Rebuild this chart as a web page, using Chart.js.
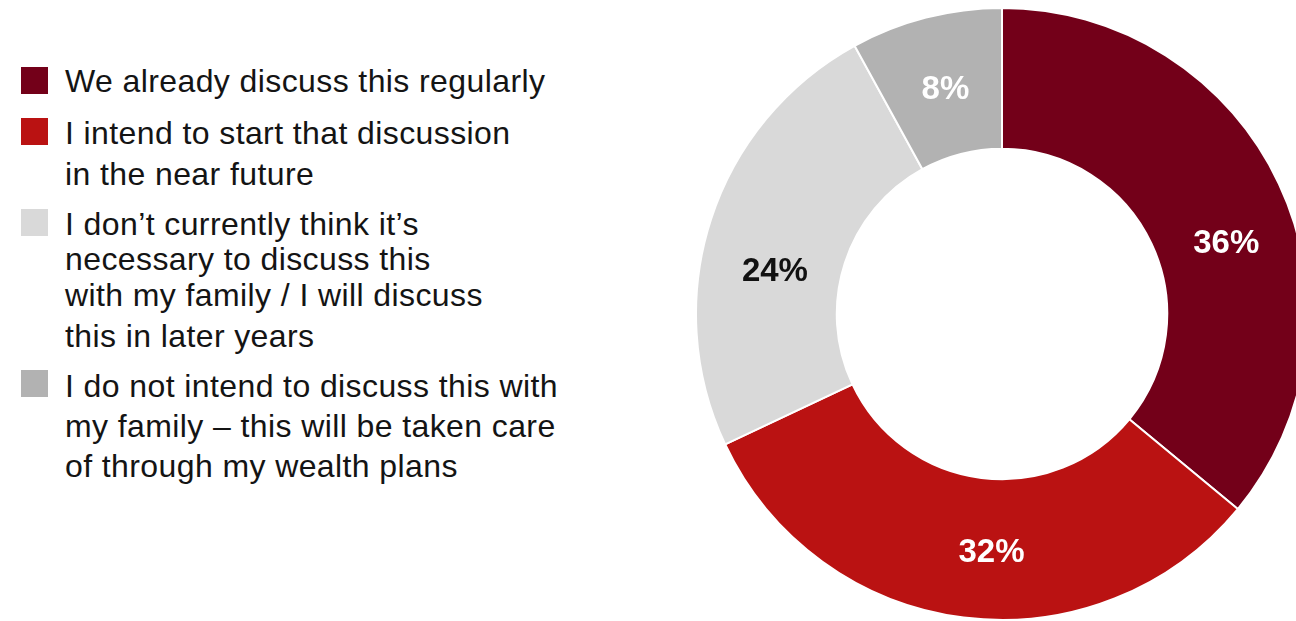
<!DOCTYPE html>
<html>
<head>
<meta charset="utf-8">
<script src="https://cdn.jsdelivr.net/npm/chart.js@4"></script>
<style>
  html, body { margin: 0; padding: 0; background: #ffffff; }
  body { width: 1296px; height: 621px; overflow: hidden; position: relative; }
  #legend { position: absolute; left: 0; top: 0; width: 640px; height: 621px; }
  .swatch { position: absolute; left: 21px; width: 27px; height: 27px; }
  .text {
    position: absolute; left: 65px; white-space: nowrap;
    font-family: "Liberation Sans", Arial, sans-serif; font-size: 32px;
    letter-spacing: 0.4px; color: #141414;
  }
  .text div { display: block; }
  #donutBox { position: absolute; left: 695px; top: 7px; width: 614px; height: 614px; }
</style>
</head>
<body>
<div id="legend"></div>
<div id="donutBox"><canvas id="donut"></canvas></div>
<script>
// Answer categories (one entry per line of the legend text)
const categories = [
  ["We already discuss this regularly"],
  ["I intend to start that discussion", "in the near future"],
  ["I don\u2019t currently think it\u2019s", "necessary to discuss this", "with my family / I will discuss", "this in later years"],
  ["I do not intend to discuss this with", "my family \u2013 this will be taken care", "of through my wealth plans"]
];
// Share of respondents, percent
const shares = [36, 32, 24, 8];
// Labels printed on the ring
const shareLabels = ["36%", "32%", "24%", "8%"];

// Styling
const sliceColors = ["#730019", "#BA1212", "#D9D9D9", "#B2B2B2"];
const labelColors = ["#ffffff", "#ffffff", "#111111", "#ffffff"];
const labelNudge = [[11, 30], [19, 5], [-3, 31], [2, 4]];
const legendLayout = [
  { top: 61, lines: [40], swatchTop: 67 },
  { top: 113, lines: [41, 41], swatchTop: 118 },
  { top: 207, lines: [35, 35.5, 41, 40], swatchTop: 209 },
  { top: 366, lines: [40, 40, 40], swatchTop: 370 }
];

// Legend, built from the category list
const legend = document.getElementById('legend');
categories.forEach((lines, i) => {
  const lay = legendLayout[i];
  const sw = document.createElement('div');
  sw.className = 'swatch';
  sw.style.top = lay.swatchTop + 'px';
  sw.style.background = sliceColors[i];
  legend.appendChild(sw);
  const tx = document.createElement('div');
  tx.className = 'text';
  tx.style.top = lay.top + 'px';
  lines.forEach((ln, j) => {
    const row = document.createElement('div');
    row.style.height = lay.lines[j] + 'px';
    row.style.lineHeight = lay.lines[0] + 'px';
    row.textContent = ln;
    tx.appendChild(row);
  });
  legend.appendChild(tx);
});

// Percent labels drawn inside each slice
const sliceLabels = {
  id: 'sliceLabels',
  afterDatasetsDraw(chart) {
    const ctx = chart.ctx;
    const meta = chart.getDatasetMeta(0);
    ctx.save();
    ctx.font = 'bold 33px "Liberation Sans", Arial, sans-serif';
    ctx.textAlign = 'center';
    ctx.textBaseline = 'middle';
    meta.data.forEach((arc, i) => {
      const p = arc.getCenterPoint();
      ctx.fillStyle = labelColors[i];
      ctx.fillText(shareLabels[i], p.x + labelNudge[i][0], p.y + labelNudge[i][1]);
    });
    ctx.restore();
  }
};

new Chart(document.getElementById('donut'), {
  type: 'doughnut',
  data: {
    labels: categories.map(l => l.join(' ')),
    datasets: [{
      data: shares,
      backgroundColor: sliceColors,
      borderColor: '#ffffff',
      borderWidth: 2
    }]
  },
  options: {
    responsive: true,
    maintainAspectRatio: false,
    animation: false,
    cutout: '54%',
    layout: { padding: 0 },
    plugins: {
      legend: { display: false },
      tooltip: { enabled: false }
    }
  },
  plugins: [sliceLabels]
});
</script>
</body>
</html>
